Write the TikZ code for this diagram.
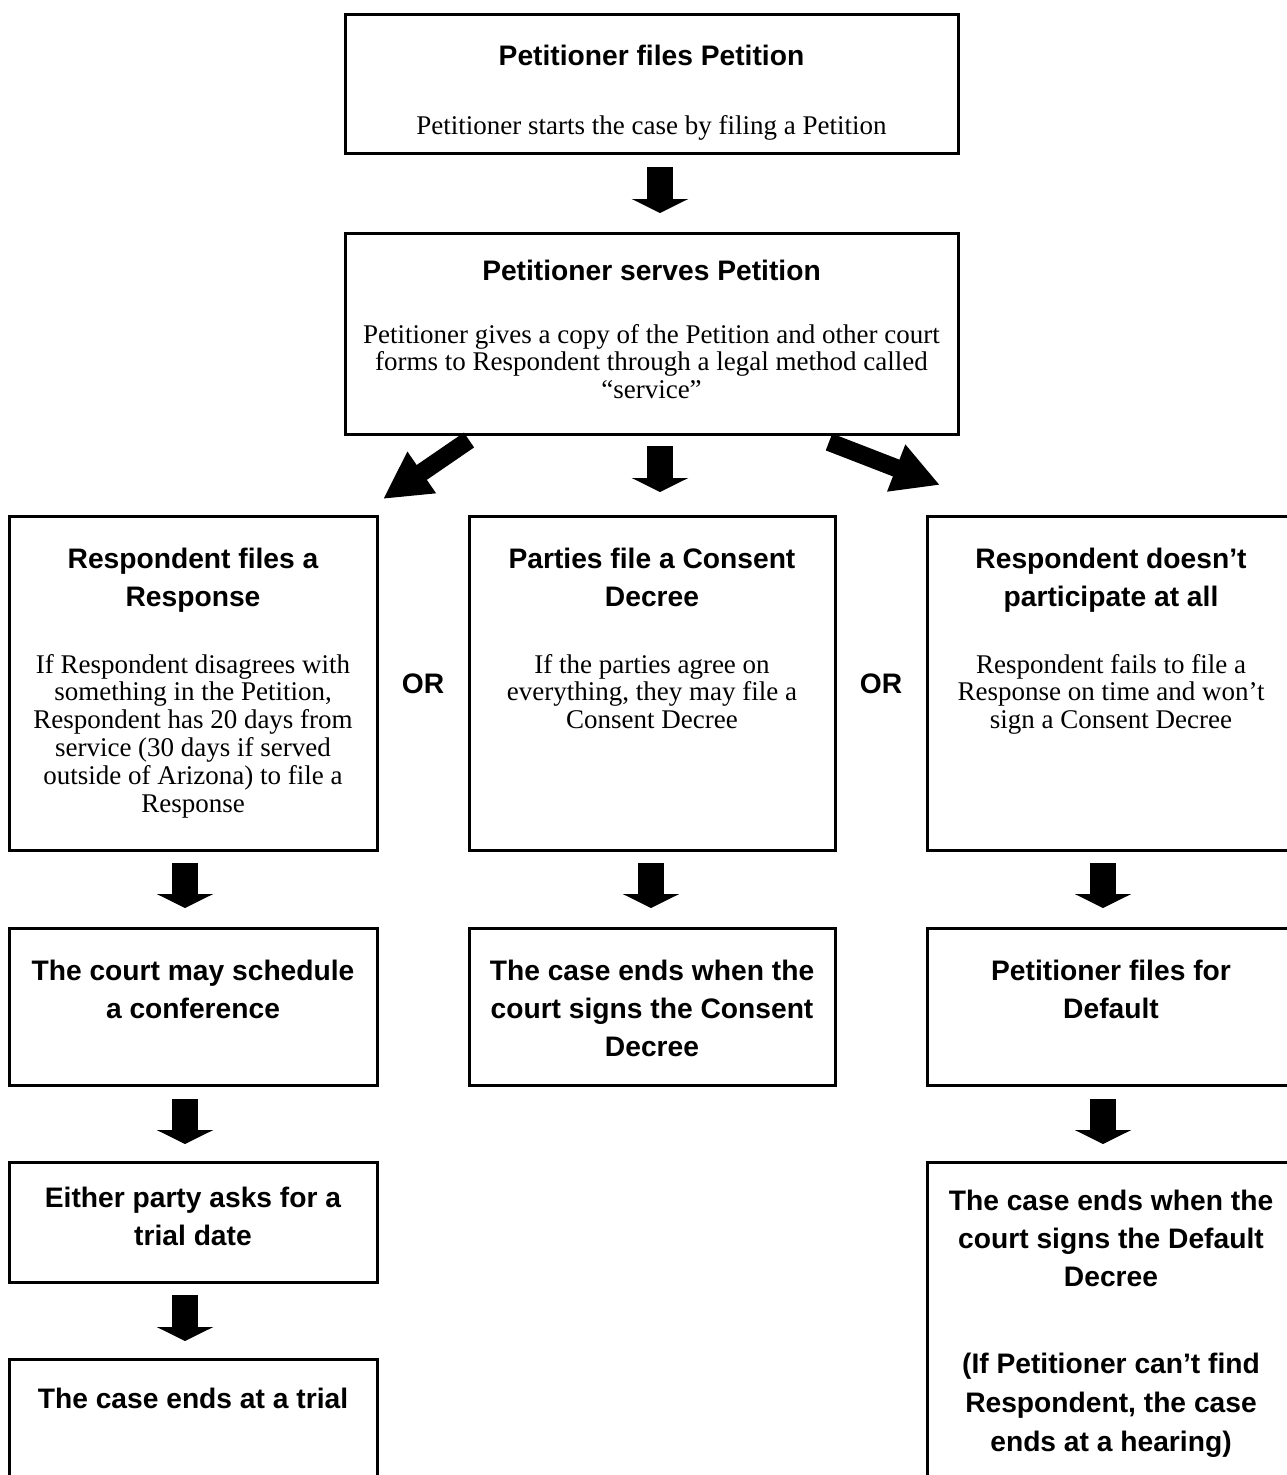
\documentclass[tikz,border=0pt]{standalone}
\usepackage{fontspec}
\setmainfont{Liberation Serif}
\newfontfamily\hdfont{Liberation Sans}
\usetikzlibrary{arrows.meta}
\begin{document}
\begin{tikzpicture}[x=1pt,y=-1pt,
  box/.style={draw, line width=3pt, inner sep=0pt},
  ttl/.style={font=\hdfont\bfseries\fontsize{28.2}{38}\selectfont, align=center, anchor=base, inner sep=0pt},
  bdy/.style={font=\fontsize{27}{27.8}\selectfont, align=center, anchor=base, inner sep=0pt},
  varrow/.style={line width=26pt, -{Triangle[width=56pt 0,length=14pt 0]}},
  darrow/.style={line width=18pt, -{Triangle[width=47pt 0,length=47pt 0]}}]
\useasboundingbox (0,0) rectangle (1287,1475);
\clip (0,0) rectangle (1287,1475);

% boxes
\node[box, minimum width=613pt, minimum height=139pt] (b1) at (651.5,83.5) {};
\node[box, minimum width=613pt, minimum height=201pt] (b2) at (651.5,333.5) {};
\node[box, minimum width=368pt, minimum height=334pt] (l3) at (193,683) {};
\node[box, minimum width=366pt, minimum height=334pt] (m3) at (652,683) {};
\node[box, minimum width=368pt, minimum height=334pt] (r3) at (1111,683) {};
\node[box, minimum width=368pt, minimum height=157pt] (l4) at (193,1006.5) {};
\node[box, minimum width=366pt, minimum height=157pt] (m4) at (652,1006.5) {};
\node[box, minimum width=368pt, minimum height=157pt] (r4) at (1111,1006.5) {};
\node[box, minimum width=368pt, minimum height=120pt] (l5) at (193,1222) {};
\node[box, minimum width=368pt, minimum height=338pt] (r5) at (1111,1331) {};
\node[box, minimum width=368pt, minimum height=141pt] (l6) at (193,1429.5) {};

% texts (anchor = baseline of the last line)
\node[ttl] (t1) at (651.5,65) {Petitioner files Petition};
\node[bdy] (x1) at (651.5,134) {Petitioner starts the case by filing a Petition};
\node[ttl] (t2) at (651.5,280) {Petitioner serves Petition};
\node[bdy] (x2) at (651.5,398.6) {Petitioner gives a copy of the Petition and other court\\forms to Respondent through a legal method called\\“service”};
\node[ttl] (tl3) at (193,606) {Respondent files a\\Response};
\node[bdy] (xl3) at (193,812) {If Respondent disagrees with\\something in the Petition,\\Respondent has 20 days from\\service (30 days if served\\outside of Arizona) to file a\\Response};
\node[ttl] (tm3) at (652,606) {Parties file a Consent\\Decree};
\node[bdy] (xm3) at (652,728.6) {If the parties agree on\\everything, they may file a\\Consent Decree};
\node[ttl] (tr3) at (1111,606) {Respondent doesn’t\\participate at all};
\node[bdy] (xr3) at (1111,728.6) {Respondent fails to file a\\Response on time and won’t\\sign a Consent Decree};
\node[ttl] (or1) at (423,693) {OR};
\node[ttl] (or2) at (881,693) {OR};
\node[ttl] (tl4) at (193,1018) {The court may schedule\\a conference};
\node[ttl] (tm4) at (652,1056) {The case ends when the\\court signs the Consent\\Decree};
\node[ttl] (tr4) at (1111,1018) {Petitioner files for\\Default};
\node[ttl] (tl5) at (193,1245) {Either party asks for a\\trial date};
\node[ttl] (tr5) at (1111,1286) {The case ends when the\\court signs the Default\\Decree};
\node[ttl, font=\hdfont\bfseries\fontsize{28.2}{39}\selectfont] (tr5b) at (1111,1451) {(If Petitioner can’t find\\Respondent, the case\\ends at a hearing)};
\node[ttl] (tl6) at (193,1408) {The case ends at a trial};

% arrow end points
\coordinate (a1s) at (660,167);  \coordinate (a1e) at (660,213);
\coordinate (a2s) at (660,446);  \coordinate (a2e) at (660,492);
\coordinate (dls) at (469,440);  \coordinate (dle) at (383,499);
\coordinate (drs) at (829,442);  \coordinate (dre) at (940,485);
\coordinate (a3s) at (185,863);  \coordinate (a3e) at (185,908);
\coordinate (a4s) at (651,863);  \coordinate (a4e) at (651,908);
\coordinate (a5s) at (1103,863); \coordinate (a5e) at (1103,908);
\coordinate (a6s) at (185,1099); \coordinate (a6e) at (185,1144);
\coordinate (a7s) at (1103,1099);\coordinate (a7e) at (1103,1144);
\coordinate (a8s) at (185,1295); \coordinate (a8e) at (185,1341);

\draw[varrow] (a1s) -- (a1e);
\draw[varrow] (a2s) -- (a2e);
\draw[darrow] (dls) -- (dle);
\draw[darrow] (drs) -- (dre);
\draw[varrow] (a3s) -- (a3e);
\draw[varrow] (a4s) -- (a4e);
\draw[varrow] (a5s) -- (a5e);
\draw[varrow] (a6s) -- (a6e);
\draw[varrow] (a7s) -- (a7e);
\draw[varrow] (a8s) -- (a8e);
\end{tikzpicture}
\end{document}
